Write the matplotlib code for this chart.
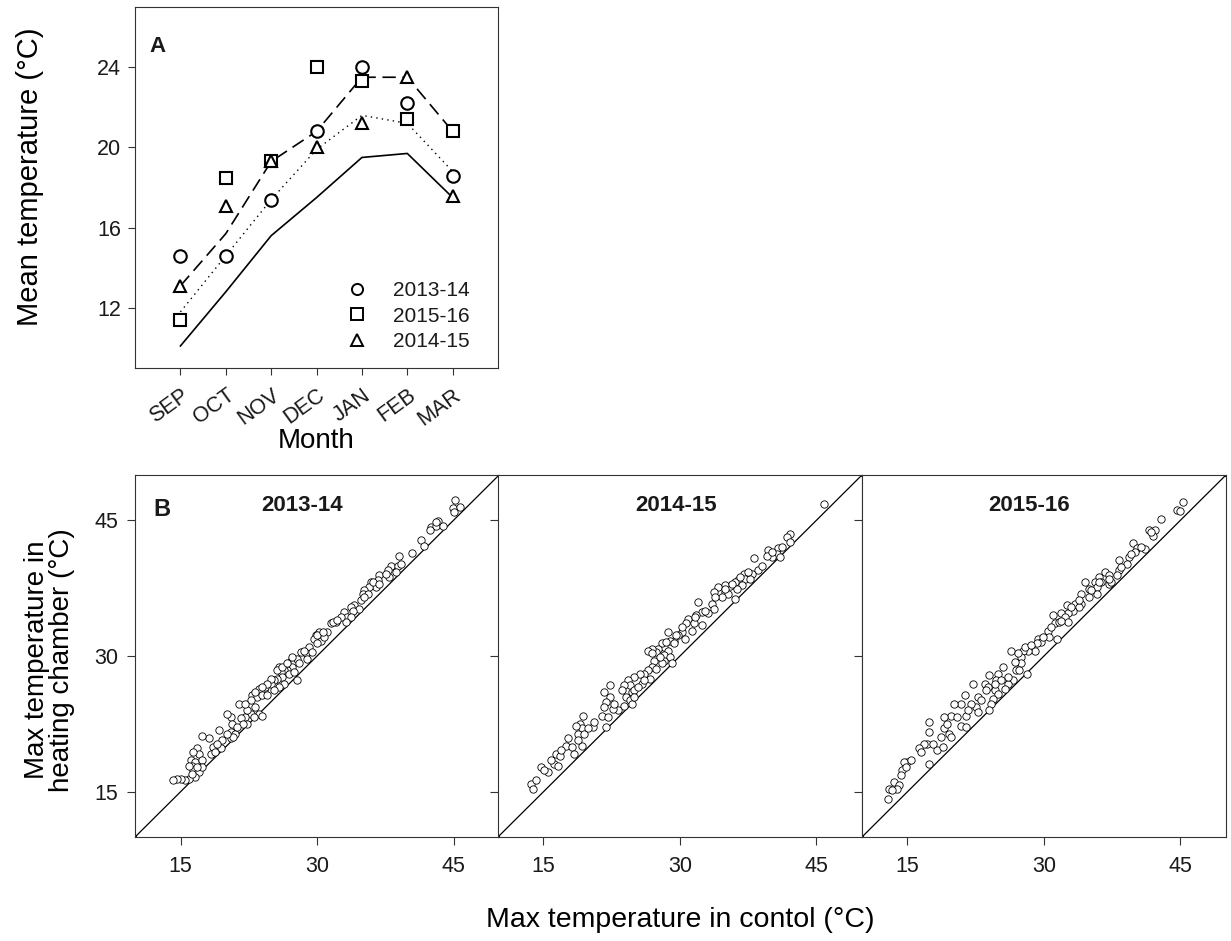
import matplotlib
matplotlib.use('Agg')
import matplotlib.pyplot as plt
from matplotlib.lines import Line2D

plt.rcParams['font.family'] = ['Liberation Sans', 'DejaVu Sans']
plt.rcParams['text.color'] = '#1a1a1a'
plt.rcParams['axes.edgecolor'] = '#333333'
plt.rcParams['xtick.color'] = '#333333'
plt.rcParams['ytick.color'] = '#333333'
plt.rcParams['xtick.labelcolor'] = '#1a1a1a'
plt.rcParams['ytick.labelcolor'] = '#1a1a1a'

# ---- panel A: monthly mean temperature ----
months = ['SEP', 'OCT', 'NOV', 'DEC', 'JAN', 'FEB', 'MAR']
heat_1314 = [14.6, 14.6, 17.4, 20.8, 24.0, 22.2, 18.6]
heat_1516 = [11.4, 18.5, 19.3, 24.0, 23.3, 21.4, 20.8]
heat_1415 = [13.1, 17.1, 19.3, 20.0, 21.2, 23.5, 17.6]
# lines (no markers): dashed, dotted, solid
line_dashed = [13.1, 15.7, 19.3, 20.8, 23.5, 23.5, 20.8]
line_dotted = [11.8, 14.6, 17.4, 19.9, 21.6, 21.2, 18.8]
line_solid = [10.1, 12.8, 15.6, 17.5, 19.5, 19.7, 17.5]

# ---- panel B: daily max temperature, control vs heating chamber ----
ctrl_1314 = [45.2, 44.9, 45.7, 45.1, 43.3, 42.5, 43.1, 43.8, 42.4, 41.4, 41.8, 40.4,
             39.0, 38.1, 38.9, 37.8, 38.7, 37.9, 36.8, 36.7, 35.9, 36.5, 35.7, 35.2,
             35.0, 35.6, 34.8, 34.1, 33.7, 34.6, 33.9, 33.0, 33.3, 33.7, 33.2, 32.1,
             31.5, 31.1, 30.2, 29.9, 29.7, 30.4, 30.0, 29.1, 28.2, 28.8, 29.5, 27.1,
             27.5, 27.8, 27.3, 26.7, 26.4, 26.0, 26.9, 27.5, 27.8, 26.2, 25.6, 25.3,
             24.9, 26.4, 25.8, 25.3, 24.2, 23.6, 22.9, 23.4, 24.0, 24.5, 23.2, 23.6,
             24.0, 22.7, 22.1, 21.6, 22.3, 21.4, 20.5, 20.7, 20.1, 20.5, 21.0, 20.5,
             20.8, 19.2, 18.1, 17.4, 18.6, 18.3, 19.4, 16.8, 17.0, 16.1, 16.6, 17.4,
             16.3, 16.4, 17.0, 16.6, 15.9, 15.5, 15.0, 14.6, 14.2, 28.6, 28.9, 25.8,
             24.3, 22.3, 23.1, 18.8, 17.4, 32.6, 30.8,
             25.6, 26.2, 26.7, 27.3, 28.0, 24.9, 24.5, 24.0, 23.2, 22.7, 22.1, 21.9,
             21.2, 20.1, 19.6, 19.0, 16.4, 15.9, 16.8, 16.3, 30.0, 30.6, 31.7, 32.2,
             35.2, 36.1, 36.8, 37.6, 39.2, 43.1]
heat_b_1314 = [47.2, 46.4, 46.5, 45.9, 44.9, 44.3, 44.4, 44.4, 43.9, 42.8, 42.2, 41.4,
               41.0, 40.0, 40.0, 39.5, 39.3, 38.7, 38.9, 38.4, 38.2, 37.6, 37.6, 37.3,
               36.9, 36.9, 36.2, 35.6, 35.4, 35.2, 35.0, 34.9, 34.3, 34.3, 33.8, 33.8,
               33.6, 32.7, 32.7, 32.3, 31.9, 31.7, 31.4, 31.0, 30.4, 30.3, 30.4, 29.5,
               29.3, 29.7, 28.8, 28.4, 28.4, 28.2, 28.0, 28.2, 27.3, 27.7, 27.5, 27.3,
               26.9, 26.9, 26.6, 26.2, 26.2, 26.4, 25.7, 25.5, 25.7, 25.7, 24.4, 23.6,
               23.4, 23.6, 23.3, 23.1, 22.5, 24.7, 23.3, 22.5, 23.6, 21.6, 21.4, 20.9,
               21.0, 21.8, 20.9, 21.2, 19.9, 19.2, 19.8, 19.8, 19.2, 18.5, 18.3, 18.5,
               17.9, 17.4, 17.2, 16.6, 16.4, 16.3, 16.4, 16.4, 16.3, 30.6, 29.7, 28.8,
               26.6, 24.0, 23.3, 19.4, 17.7, 34.3, 32.1,
               28.4, 28.8, 29.2, 29.9, 29.2, 27.5, 26.9, 26.6, 26.0, 25.1, 24.7, 22.5,
               22.2, 21.4, 20.7, 20.3, 19.4, 17.9, 17.7, 17.0, 32.3, 32.7, 33.8, 34.0,
               36.5, 38.2, 38.0, 39.1, 40.2, 44.8]

ctrl_1415 = [45.8, 42.1, 41.8, 42.1, 40.8, 39.7, 40.7, 41.0, 40.1, 39.6, 38.1, 38.6,
             37.9, 37.0, 37.2, 37.7, 36.4, 36.1, 36.8, 36.3, 35.5, 35.0, 34.2, 35.0,
             35.3, 34.6, 36.1, 33.7, 32.0, 33.5, 33.7, 33.1, 32.4, 31.8, 30.9, 30.7,
             31.5, 32.4, 31.3, 30.2, 29.8, 30.6, 29.4, 28.7, 28.9, 29.3, 28.3, 28.7,
             28.0, 27.6, 28.2, 28.9, 28.3, 29.1, 28.0, 27.4, 27.2, 26.9, 26.5, 26.9,
             27.4, 26.5, 26.1, 26.7, 25.8, 25.6, 25.0, 24.3, 24.5, 23.8, 24.7, 25.0,
             24.1, 24.5, 24.7, 23.9, 23.2, 22.6, 22.3, 21.7, 22.3, 21.9, 21.4, 22.1,
             21.9, 19.3, 19.0, 19.2, 18.6, 18.8, 19.5, 20.4, 17.7, 17.5, 18.1, 18.4,
             19.2, 16.4, 16.8, 16.2, 16.6, 14.7, 15.5, 13.6, 13.8,
             26.9, 27.8, 28.5, 29.6, 30.2, 31.7, 32.8, 33.9, 35.0, 35.7, 36.6, 37.5,
             39.0, 40.1, 41.2, 26.1, 25.4, 24.9, 23.6, 22.8, 21.7, 20.6, 19.9, 18.8,
             16.9, 15.8, 15.1, 14.2]
heat_b_1415 = [46.8, 43.5, 43.1, 42.6, 41.9, 41.7, 41.3, 40.9, 40.9, 41.0, 40.8, 39.5,
               39.1, 39.1, 38.5, 38.5, 38.4, 38.2, 37.8, 37.4, 37.7, 37.8, 37.6, 37.1,
               36.9, 36.5, 36.3, 37.1, 36.0, 35.8, 35.2, 34.7, 34.9, 34.5, 34.1, 33.6,
               33.6, 33.4, 32.8, 32.7, 32.3, 31.9, 31.7, 32.7, 31.7, 31.4, 31.0, 30.6,
               31.4, 30.8, 30.1, 29.9, 29.5, 29.2, 29.2, 30.4, 29.5, 30.8, 30.6, 28.8,
               28.6, 28.4, 28.0, 27.5, 26.9, 28.0, 27.7, 27.3, 26.8, 26.8, 26.0, 26.2,
               25.5, 25.1, 24.7, 24.5, 24.0, 24.2, 26.8, 26.0, 25.5, 24.9, 23.4, 23.3,
               22.2, 23.4, 22.5, 22.0, 22.3, 21.4, 21.4, 22.2, 20.9, 20.1, 19.9, 19.2,
               20.1, 19.2, 19.0, 18.1, 17.9, 17.7, 17.2, 15.9, 15.3,
               30.3, 29.9, 31.5, 32.3, 33.2, 34.3, 35.0, 36.5, 37.4, 38.0, 38.7, 39.3,
               40.0, 41.5, 42.0, 27.3, 26.6, 25.5, 26.2, 24.7, 24.4, 22.7, 22.0, 20.7,
               19.6, 18.5, 17.4, 16.3]

ctrl_1516 = [45.3, 44.6, 45.0, 42.9, 42.2, 41.5, 42.0, 39.8, 40.2, 40.0, 41.1, 39.3,
             38.3, 39.1, 38.2, 36.7, 37.1, 36.1, 35.6, 36.3, 35.8, 37.1, 37.4, 38.0,
             34.5, 35.0, 34.1, 34.9, 35.8, 33.4, 34.1, 33.8, 33.2, 32.5, 32.6, 31.9,
             32.3, 31.0, 31.2, 31.7, 32.6, 31.4, 30.4, 30.6, 29.3, 29.7, 29.2, 29.0,
             28.2, 27.7, 26.4, 27.5, 27.5, 26.8, 26.9, 27.3, 28.1, 26.6, 26.0, 25.7,
             25.5, 24.9, 24.7, 24.0, 23.5, 23.8, 24.6, 24.9, 24.4, 24.2, 24.0, 22.7,
             22.5, 22.7, 22.2, 21.3, 20.9, 20.1, 21.4, 20.9, 21.4, 19.8, 19.0, 19.0,
             19.6, 19.8, 17.4, 17.4, 17.2, 16.8, 16.3, 17.4, 18.3, 18.9, 15.0, 14.6,
             14.4, 14.8, 13.5, 13.0, 14.1, 13.9, 12.9,
             27.1, 27.9, 28.6, 29.9, 30.8, 31.9, 33.0, 33.9, 35.2, 36.1, 37.2, 38.5,
             39.6, 40.7, 41.8, 26.0, 25.3, 24.6, 23.6, 23.1, 22.0, 21.6, 20.5, 19.4,
             18.7, 17.8, 16.5, 15.4, 14.3, 13.3]
heat_b_1516 = [47.0, 46.1, 46.0, 45.1, 43.9, 43.9, 43.3, 42.5, 41.9, 41.5, 41.8, 40.9,
               40.6, 40.2, 39.5, 39.3, 38.9, 38.7, 38.2, 38.2, 37.6, 38.0, 38.2, 38.9,
               38.2, 37.4, 36.9, 36.5, 36.9, 35.8, 35.8, 35.4, 35.0, 35.6, 34.7, 34.7,
               34.3, 34.5, 33.6, 33.8, 33.8, 31.9, 32.8, 32.1, 31.9, 31.5, 31.4, 30.6,
               30.6, 30.6, 30.6, 29.9, 29.2, 29.3, 28.4, 28.4, 28.0, 27.3, 26.9, 26.4,
               28.8, 28.0, 27.3, 27.9, 26.9, 26.6, 26.2, 25.8, 25.3, 24.7, 24.0, 25.5,
               24.4, 23.8, 26.9, 25.7, 24.7, 24.7, 23.4, 22.3, 22.2, 23.4, 23.3, 22.0,
               21.4, 21.0, 22.7, 21.6, 20.3, 20.3, 19.8, 18.1, 19.6, 19.9, 18.3, 18.3,
               17.4, 17.7, 16.1, 15.3, 15.7, 15.3, 14.2,
               30.3, 31.0, 31.2, 32.1, 33.2, 33.9, 35.4, 36.2, 37.3, 38.2, 38.5, 39.8,
               41.3, 42.0, 43.7, 27.7, 27.3, 26.9, 26.2, 25.1, 24.7, 24.0, 23.3, 22.5,
               21.0, 20.3, 19.4, 18.5, 16.8, 15.2]

seasons = ['2013-14', '2014-15', '2015-16']
ctrl_series = [ctrl_1314, ctrl_1415, ctrl_1516]
heat_series = [heat_b_1314, heat_b_1415, heat_b_1516]

fig = plt.figure(figsize=(12.31, 9.41), dpi=100)

# panel A
axA = fig.add_axes([0.1097, 0.6089, 0.2949, 0.3836])
xs = list(range(len(months)))
axA.plot(xs, line_solid, color='black', lw=1.2)
axA.plot(xs, line_dotted, color='black', lw=1.0, linestyle=(0, (1, 3)))
axA.plot(xs, line_dashed, color='black', lw=1.2, linestyle=(0, (8, 4)))
mk = dict(linestyle='none', markersize=9, markerfacecolor='white',
          markeredgecolor='black', markeredgewidth=1.5)
axA.plot(xs, heat_1314, marker='o', **mk)
axA.plot(xs, heat_1516, marker='s', **mk)
axA.plot(xs, heat_1415, marker='^', **mk)
axA.set_xlim(-1, 7)
axA.set_ylim(9, 27)
axA.set_yticks([12, 16, 20, 24])
axA.set_xticks(xs)
axA.set_xticklabels(months, rotation=36, ha='right', va='top',
                    rotation_mode='anchor')
axA.tick_params(direction='out', length=5, labelsize=15.5, pad=5)
axA.tick_params(axis='x', pad=7)
axA.set_ylabel('Mean temperature (°C)', fontsize=21)
axA.yaxis.set_label_coords(-0.25, 0.53)
axA.set_xlabel('Month', fontsize=20, va='top')
axA.xaxis.set_label_coords(0.5, -0.165)
axA.text(0.04, 0.92, 'A', transform=axA.transAxes, fontsize=16,
         fontweight='bold', va='top')
leg_mk = dict(mk, markersize=8, markeredgewidth=1.4)
handles = [Line2D([], [], marker=m, **leg_mk) for m in ['o', 's', '^']]
axA.legend(handles, ['2013-14', '2015-16', '2014-15'], loc='upper left',
           bbox_to_anchor=(0.583, 0.240), frameon=False, fontsize=15,
           handlelength=1.0, handletextpad=1.2, labelspacing=0.3,
           borderpad=0, borderaxespad=0)

# panel B
lefts = [0.1097, 0.4045, 0.7002]
title_x = [0.46, 0.49, 0.46]
for i, name in enumerate(seasons):
    ax = fig.add_axes([lefts[i], 0.1105, 0.2957, 0.3847])
    ax.plot([10, 50], [10, 50], color='black', lw=0.9, marker='.',
            markersize=3)
    ax.scatter(ctrl_series[i], heat_series[i], s=28, facecolors='white',
               edgecolors='black', linewidths=0.6, zorder=3)
    ax.set_xlim(10, 50)
    ax.set_ylim(10, 50)
    ax.set_xticks([15, 30, 45])
    ax.set_yticks([15, 30, 45])
    ax.tick_params(direction='out', length=6, labelsize=15.5)
    ax.tick_params(axis='x', pad=8)
    ax.tick_params(axis='y', pad=6)
    if i > 0:
        ax.set_yticklabels([])
    ax.text(title_x[i], 0.915, name, transform=ax.transAxes, fontsize=16,
            fontweight='bold', ha='center', va='center')
    if i == 0:
        ax.text(0.05, 0.905, 'B', transform=ax.transAxes, fontsize=17,
                fontweight='bold', va='center')
        ax.set_ylabel('Max temperature in\nheating chamber (°C)', fontsize=20,
                      linespacing=0.95)
        ax.yaxis.set_label_coords(-0.165, 0.49)
    if i == 1:
        ax.set_xlabel('Max temperature in contol (°C)', fontsize=20.5,
                      va='center')
        ax.xaxis.set_label_coords(0.5, -0.23)

fig.savefig('out.png', dpi=100)
